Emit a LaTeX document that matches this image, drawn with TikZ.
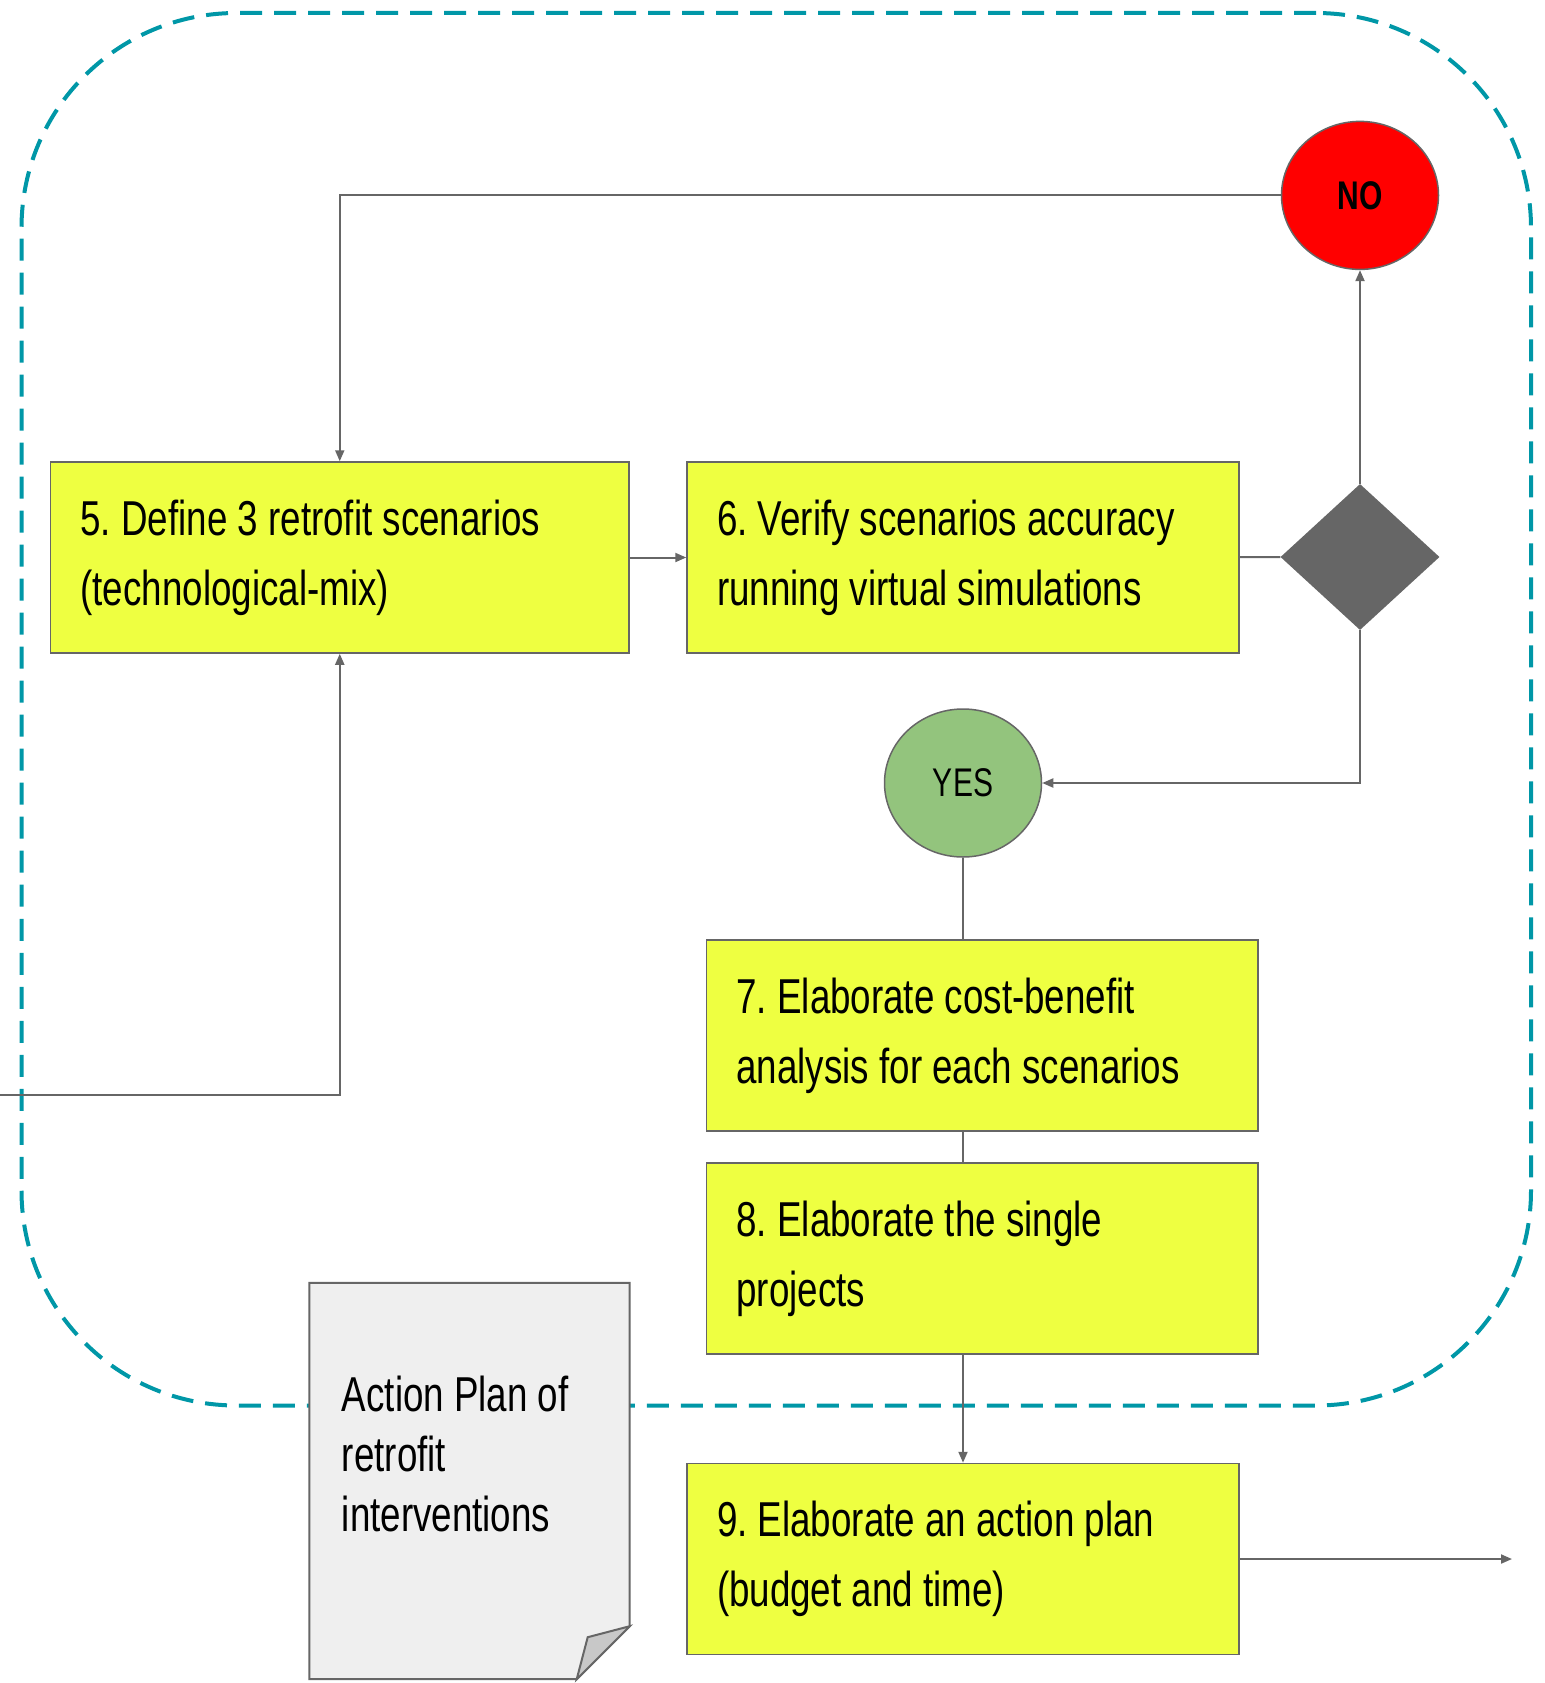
\documentclass[tikz,border=0pt]{standalone}
\usepackage{fontspec}
\setmainfont{Liberation Sans}[FakeStretch=0.75]
\frenchspacing
\usetikzlibrary{shapes.geometric,arrows.meta}

\definecolor{stepyellow}{RGB}{238,255,65}
\definecolor{linegrey}{RGB}{102,102,102}
\definecolor{nored}{RGB}{255,0,0}
\definecolor{yesgreen}{RGB}{147,196,125}
\definecolor{docgrey}{RGB}{239,239,239}
\definecolor{foldgrey}{RGB}{200,200,200}
\definecolor{frameteal}{RGB}{0,151,167}

\begin{document}
\begin{tikzpicture}[x=1pt,y=-1pt,
    stepbox/.style={rectangle, draw=linegrey, fill=stepyellow, line width=1.5pt,
      inner sep=0pt, minimum height=191pt, align=flush left,
      font=\fontsize{49}{70}\selectfont},
    answer/.style={ellipse, draw=linegrey, line width=1.5pt, inner sep=0pt,
      minimum width=157pt, minimum height=148pt, font=\fontsize{40}{48}\selectfont},
    conn/.style={draw=linegrey, line width=2pt, -{Triangle[length=11pt,width=9pt]}},
    plain/.style={draw=linegrey, line width=2pt}]

      \useasboundingbox (0,0) rectangle (1544,1683);

      \node[rectangle, draw=frameteal, line width=4pt, dash pattern=on 22pt off 12pt,
        rounded corners=215pt, minimum width=1509.5pt, minimum height=1392.5pt]
        (group) at (776.25,709.25) {};

      \node[stepbox, minimum width=578.5pt, text width=518.5pt] (s5) at (339.75,557.5)
        {5. Define 3 retrofit scenarios\\(technological-mix)};
      \node[stepbox, minimum width=552pt, text width=492pt] (s6) at (963,557.5)
        {6. Verify scenarios accuracy\\running virtual simulations};
      \node[stepbox, minimum width=551.5pt, text width=491.5pt] (s7) at (982.25,1035.6)
        {7. Elaborate cost-benefit\\analysis for each scenarios};
      \node[stepbox, minimum width=551.5pt, text width=491.5pt] (s8) at (982.25,1258.5)
        {8. Elaborate the single\\projects};
      \node[stepbox, minimum width=552pt, text width=492pt] (s9) at (963,1559)
        {9. Elaborate an action plan\\(budget and time)};

      \node[diamond, fill=linegrey, inner sep=0pt, minimum width=159pt,
        minimum height=146pt] (check) at (1360,557) {};
      \node[answer, fill=nored, font=\fontsize{40}{48}\selectfont\bfseries] (no) at (1360,195.4) {NO};
      \node[answer, fill=yesgreen] (yes) at (963,783) {YES};

      \coordinate (in) at (0,1095);
      \coordinate (out) at (1512,1559);

      \node[rectangle, inner sep=0pt, minimum width=320pt, minimum height=396pt] (doc) at (469.5,1481) {};
      \draw[line width=2pt, draw=linegrey, fill=docgrey] (doc.north west) -- (doc.north east)
        -- ([yshift=53pt]doc.south east) -- ([xshift=-53pt]doc.south east) -- (doc.south west) -- cycle;
      \draw[line width=2pt, draw=linegrey, fill=foldgrey] ([yshift=53pt]doc.south east)
        -- ([xshift=-42pt,yshift=42pt]doc.south east) -- ([xshift=-53pt]doc.south east) -- cycle;
      \node[anchor=north west, inner sep=0pt, align=flush left, font=\fontsize{49}{60}\selectfont]
        (doctext) at (341.7,1376) {Action Plan of\\retrofit\\interventions};

      \path[conn] (no.west) -| (s5.north);
      \path[conn] (in) -| (s5.south);
      \path[conn] (s5) -- (s6);
      \path[plain] (s6) -- (check);
      \path[conn] (check) -- (no);
      \path[conn] (check.south) |- (yes.east);
      \path[plain] (yes.south) -- (yes.south |- s7.north);
      \path[plain] (s7.south -| yes) -- (s8.north -| yes);
      \path[conn] (s8.south -| s9) -- (s9.north);
      \path[conn] (s9) -- (out);

    \end{tikzpicture}
\end{document}
